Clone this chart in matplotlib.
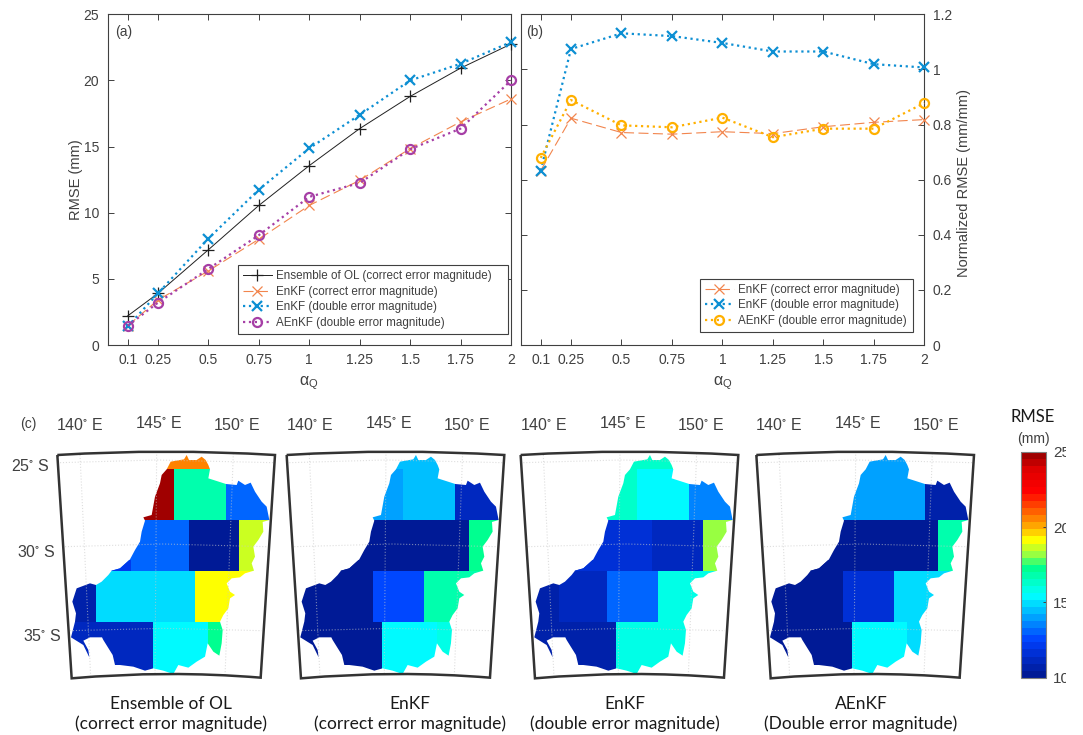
import numpy as np
import matplotlib
matplotlib.use("Agg")
import matplotlib.pyplot as plt
from matplotlib.colors import LinearSegmentedColormap, Normalize
from matplotlib.cm import ScalarMappable
from matplotlib.patches import Polygon, Rectangle, PathPatch
from matplotlib.path import Path
from matplotlib.transforms import Bbox

# ---------- data: line panels ----------
alpha_q = [0.1, 0.25, 0.5, 0.75, 1, 1.25, 1.5, 1.75, 2]
x_ticklabels = ["0.1", "0.25", "0.5", "0.75", "1", "1.25", "1.5", "1.75", "2"]
ol_correct = [2.2, 3.9, 7.2, 10.55, 13.56, 16.36, 18.79, 20.93, 22.75]
enkf_correct = [1.45, 3.4, 5.6, 8.0, 10.55, 12.45, 14.85, 16.87, 18.6]
enkf_double = [1.4, 3.9, 8.05, 11.74, 14.87, 17.4, 20.0, 21.26, 22.9]
aenkf_double = [1.45, 3.2, 5.75, 8.3, 11.2, 12.25, 14.8, 16.36, 20.0]
norm_enkf_correct = [0.633, 0.823, 0.771, 0.765, 0.774, 0.767, 0.792, 0.808, 0.818]
norm_enkf_double = [0.633, 1.074, 1.131, 1.121, 1.096, 1.065, 1.065, 1.019, 1.007]
norm_aenkf_double = [0.679, 0.889, 0.797, 0.790, 0.825, 0.754, 0.785, 0.785, 0.878]

# ---------- data: map panels (outline and zones) ----------
basin_x = [380, 392, 420, 432, 440, 447, 470, 485, 497, 505, 510, 505, 530, 558, 590, 595, 615, 632, 645, 665,
           680, 688, 668, 670, 655, 640, 645, 635, 642, 615, 600, 575, 560, 570, 585, 570, 565, 550, 540, 548,
           545, 538, 520, 503, 495, 470, 445, 415, 400, 370, 340, 315, 280, 240, 225, 218, 190, 186, 150, 130,
           145, 148, 130, 93, 105, 108, 97, 110, 150, 168, 185, 205, 215, 240, 270, 285, 300, 305, 315, 310,
           335, 345, 360, 365]
basin_y = [208, 185, 180, 178, 165, 180, 180, 170, 180, 195, 208, 235, 243, 252, 255, 242, 255, 248, 275, 305,
           320, 360, 366, 395, 420, 440, 470, 490, 512, 520, 532, 535, 550, 575, 585, 595, 625, 645, 665, 690,
           730, 767, 755, 730, 770, 785, 803, 795, 822, 812, 805, 812, 800, 795, 795, 765, 720, 712, 712, 722,
           750, 772, 735, 712, 665, 640, 605, 565, 550, 555, 545, 525, 512, 505, 478, 450, 425, 395, 362, 352,
           345, 290, 250, 225]
zone_left = [0, 0, 402, 558, 0, 446, 598, 0, 168, 311, 464, 0, 338, 503, 0]
zone_right = [510, 402, 558, 750, 446, 598, 750, 168, 311, 464, 750, 338, 503, 750, 272]
zone_top = [0, 208, 208, 208, 360, 360, 360, 513, 513, 513, 513, 665, 665, 665, 480]
zone_bottom = [208, 360, 360, 360, 513, 513, 513, 665, 665, 665, 665, 900, 900, 900, 513]
rmse_ol = [20.4, 24.9, 16.7, 13.0, 13.2, 10.4, 18.7, 10.7, 14.8, 14.8, 19.1, 11.3, 15.4, 17.4, 12.3]
rmse_enkf_correct = [14.3, 14.1, 14.3, 11.3, 10.4, 10.4, 17.4, 10.2, 10.2, 12.4, 16.7, 10.2, 15.4, 16.0, 10.4]
rmse_enkf_double = [16.4, 16.3, 15.4, 13.7, 11.6, 11.1, 18.0, 10.8, 11.3, 13.2, 15.9, 10.5, 15.9, 15.9, 11.6]
rmse_aenkf_double = [13.8, 14.2, 13.8, 10.9, 10.4, 10.4, 17.0, 10.2, 10.2, 11.6, 14.8, 10.3, 15.4, 15.1, 10.4]
map_titles = ["Ensemble of OL\n(correct error magnitude)", "EnKF\n(correct error magnitude)",
              "EnKF\n(double error magnitude)", "AEnKF\n(Double error magnitude)"]
lon_labels = [140, 145, 150]
lat_labels = [25, 30, 35]
cbar_ticks = [10, 15, 20, 25]
cmap_values = [10, 11, 12.3, 15.4, 17.4, 18, 19.2, 20, 20.9, 22.5, 24, 25]
cmap_colors = ["#001a96", "#0028c0", "#0040ff", "#00ffff", "#00ff88", "#80ff50", "#ffff00", "#ffb000",
               "#ff7000", "#ff0000", "#e00000", "#a00000"]

# ---------- style ----------
W, H = 1083, 735
GREY = "#404040"
ORANGE, BLUE, PURPLE, YELLOW = "#f2854d", "#0d8fd3", "#a63fa6", "#ffb000"
plt.rcParams["font.family"] = ["Liberation Sans", "DejaVu Sans"]
plt.rcParams["mathtext.fontset"] = "dejavusans"
plt.rcParams["mathtext.default"] = "regular"

fig = plt.figure(figsize=(W / 100, H / 100), dpi=100)


def px_axes(x0, y0, x1, y1, **kw):
    return fig.add_axes([x0 / W, 1 - y1 / H, (x1 - x0) / W, (y1 - y0) / H], **kw)


def ftext(x, y, s, **kw):
    kw.setdefault("color", GREY)
    kw.setdefault("ha", "center")
    kw.setdefault("va", "center")
    return fig.text(x / W, 1 - y / H, s, **kw)


def style_axes(ax):
    ax.set_xlim(0, 2)
    ax.set_xticks(alpha_q)
    ax.set_xticklabels(x_ticklabels)
    ax.tick_params(axis="both", which="both", direction="in", length=4, width=0.7, colors=GREY,
                   labelsize=10, top=True, right=True, left=True, bottom=True, pad=6)
    for s in ax.spines.values():
        s.set_color(GREY)
        s.set_linewidth(0.8)


def legend(ax, x0, y0, x1, y1):
    box = Bbox.from_extents(x0 / W, 1 - y1 / H, x1 / W, 1 - y0 / H)
    leg = ax.legend(loc="lower left", bbox_to_anchor=box, bbox_transform=fig.transFigure, mode="expand",
                    borderaxespad=0, fontsize=8.4, handlelength=2.5, handletextpad=0.35, labelspacing=0.33,
                    borderpad=0.4, fancybox=False, framealpha=1, edgecolor=GREY)
    leg.get_frame().set_linewidth(0.8)
    for t in leg.get_texts():
        t.set_color(GREY)


# ---------- panel (a) ----------
ax_a = px_axes(107.5, 14.3, 511, 345)
style_axes(ax_a)
ax_a.set_ylim(0, 25)
ax_a.set_yticks([0, 5, 10, 15, 20, 25])
ax_a.plot(alpha_q, ol_correct, color="#202020", lw=0.7, marker="+", ms=8, mew=0.9,
          label="Ensemble of OL (correct error magnitude)", clip_on=False, zorder=3)
ax_a.plot(alpha_q, enkf_correct, color=ORANGE, lw=0.8, dashes=(9, 4), marker="x", ms=7, mew=0.9,
          label="EnKF (correct error magnitude)", clip_on=False, zorder=3)
ax_a.plot(alpha_q, enkf_double, color=BLUE, lw=1.6, ls=":", marker="x", ms=6.5, mew=1.6,
          label="EnKF (double error magnitude)", clip_on=False, zorder=3)
ax_a.plot(alpha_q, aenkf_double, color=PURPLE, lw=1.6, ls=":", marker="o", ms=6.5, mew=1.6, mfc="none",
          label="AEnKF (double error magnitude)", clip_on=False, zorder=3)
ax_a.set_ylabel("RMSE (mm)", fontsize=10.5, color=GREY)
ax_a.yaxis.set_label_coords(-0.06, 0.5)
ax_a.set_xlabel(r"$\alpha_Q$", fontsize=11.5, color=GREY)
ax_a.xaxis.set_label_coords(0.5, -0.09)
ax_a.text(0.02, 0.945, "(a)", transform=ax_a.transAxes, fontsize=10, color=GREY, ha="left", va="center")
legend(ax_a, 238, 265, 507.5, 334)

# ---------- panel (b) ----------
ax_b = px_axes(520.5, 14.3, 924.3, 345)
style_axes(ax_b)
ax_b.set_ylim(0, 1.2)
ax_b.set_yticks([0, 0.2, 0.4, 0.6, 0.8, 1, 1.2])
ax_b.set_yticklabels(["0", "0.2", "0.4", "0.6", "0.8", "1", "1.2"])
ax_b.yaxis.tick_right()
ax_b.tick_params(axis="y", left=True, right=True, labelleft=False, labelright=True)
ax_b.yaxis.set_label_position("right")
ax_b.plot(alpha_q, norm_enkf_correct, color=ORANGE, lw=0.8, dashes=(9, 4), marker="x", ms=7, mew=0.9,
          label="EnKF (correct error magnitude)", clip_on=False, zorder=3)
ax_b.plot(alpha_q, norm_enkf_double, color=BLUE, lw=1.6, ls=":", marker="x", ms=6.5, mew=1.6,
          label="EnKF (double error magnitude)", clip_on=False, zorder=3)
ax_b.plot(alpha_q, norm_aenkf_double, color=YELLOW, lw=1.6, ls=":", marker="o", ms=6.5, mew=1.6, mfc="none",
          label="AEnKF (double error magnitude)", clip_on=False, zorder=3)
ax_b.set_ylabel("Normalized RMSE (mm/mm)", fontsize=10.5, color=GREY)
ax_b.yaxis.set_label_coords(1.08, 0.49)
ax_b.set_xlabel(r"$\alpha_Q$", fontsize=11.5, color=GREY)
ax_b.xaxis.set_label_coords(0.5, -0.09)
ax_b.text(0.015, 0.945, "(b)", transform=ax_b.transAxes, fontsize=10, color=GREY, ha="left", va="center")
legend(ax_b, 700, 278, 913, 332)

# ---------- panel (c): maps ----------
cmap_pos = [(v - cmap_values[0]) / (cmap_values[-1] - cmap_values[0]) for v in cmap_values]
rmse_cmap = LinearSegmentedColormap.from_list("rmse", list(zip(cmap_pos, cmap_colors)), N=32)
rmse_norm = Normalize(10, 25)

panel_offsets = [0, 229.3, 463.3, 699]
title_centres = [171, 410, 625, 861]
panel_values = [rmse_ol, rmse_enkf_correct, rmse_enkf_double, rmse_aenkf_double]
ftext(28, 424, "(c)", fontsize=10)

for offset, values, title, tc in zip(panel_offsets, panel_values, map_titles, title_centres):
    m = px_axes(40 + offset, 400, 290 + offset, 700)
    m.set_xlim(0, 750)
    m.set_ylim(900, 0)
    m.axis("off")
    m.patch.set_alpha(0)
    outline = Polygon(np.column_stack([basin_x, basin_y]), closed=True, fc="none", ec="none")
    m.add_patch(outline)
    for l, r, t, b, v in zip(zone_left, zone_right, zone_top, zone_bottom, values):
        rect = Rectangle((l, t), r - l, b - t, fc=rmse_cmap(rmse_norm(v)), ec="none", zorder=2)
        m.add_patch(rect)
        rect.set_clip_path(outline)
    for xs, ys in [([120, 152], [165, 830]), ([350, 345], [155, 825]), ([580, 555], [160, 830]),
                   ([60, 350, 700], [188, 180, 188]), ([75, 370, 680], [440, 432, 440]),
                   ([90, 370, 665], [692, 685, 692])]:
        m.plot(xs, ys, color="#c8c8c8", lw=0.8, ls=":", alpha=0.6, zorder=3)
    frame = Path([(52, 165), (378, 145), (705, 165), (662, 833), (380, 810), (95, 835), (52, 165)],
                 [Path.MOVETO, Path.CURVE3, Path.CURVE3, Path.LINETO, Path.CURVE3, Path.CURVE3, Path.LINETO])
    m.add_patch(PathPatch(frame, fc="none", ec="#333333", lw=1.8, zorder=4, joinstyle="miter"))
    for lon, lx, ly in zip(lon_labels, [80, 159, 237], [425, 423, 425]):
        ftext(lx + offset, ly, rf"{lon}$^{{\circ}}$ E", fontsize=11.5)
    ftext(tc, 714, title, fontsize=12.5, family=["Lato", "DejaVu Sans"], color="#1a1a1a", linespacing=1.3)

for lat, rx, ly in zip(lat_labels, [50, 56, 62], [466, 552, 636]):
    ftext(rx, ly, rf"{lat}$^{{\circ}}$ S", fontsize=11.5, ha="right")

# ---------- colour bar ----------
cax = px_axes(1020.7, 451.7, 1046, 677.7)
cb = fig.colorbar(ScalarMappable(norm=rmse_norm, cmap=rmse_cmap), cax=cax)
cb.set_ticks(cbar_ticks)
cb.ax.tick_params(direction="in", length=2, width=0.7, colors=GREY, labelsize=11, pad=5)
cb.outline.set_edgecolor("#808080")
cb.outline.set_linewidth(0.8)
clip = Bbox.from_extents(0, 0, 1066, H)
for t in cb.ax.get_yticklabels():
    t.set_clip_box(clip)
    t.set_clip_on(True)
ftext(1033, 417, "RMSE", fontsize=12, family=["Lato", "DejaVu Sans"], color="#1a1a1a")
ftext(1033, 439, "(mm)", fontsize=10, color=GREY)

fig.savefig("out.png", dpi=100)
